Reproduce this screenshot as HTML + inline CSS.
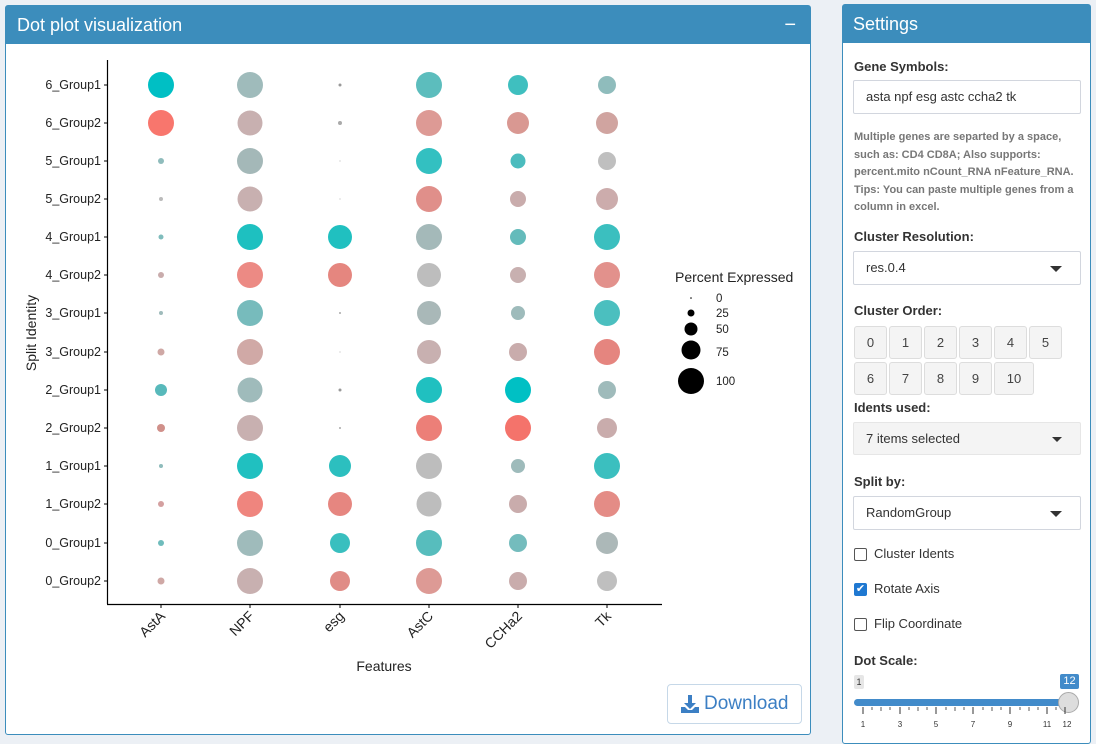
<!DOCTYPE html>
<html><head><meta charset="utf-8"><style>
*{box-sizing:border-box}
body{margin:0;width:1096px;height:742px;background:#ecf0f5;font-family:"Liberation Sans",sans-serif;position:relative;overflow:hidden}
.box{position:absolute;background:#fff;border:1px solid #3c8dbc;border-radius:3px}
.hdr{background:#3c8dbc;color:#fff;font-size:18px;height:38px;line-height:38px;padding-left:11px}
.lbl{position:absolute;left:11px;font-size:13px;font-weight:bold;color:#333}
.inp{position:absolute;left:10px;width:228px;border:1px solid #d2d6de;border-radius:2px;font-size:13px;color:#333;padding-left:12px}
.btn{position:absolute;width:33px;height:33px;border:1px solid #ddd;background:#f4f4f4;border-radius:3px;font-size:13px;color:#444;text-align:center;line-height:31px}
.caret{position:absolute;right:18px;top:14px;border-left:6px solid transparent;border-right:6px solid transparent;border-top:6px solid #333}
.cb{position:absolute;left:11px;width:13px;height:13px;border:1px solid #555;border-radius:2px;background:#fff}
.cbt{position:absolute;left:31px;font-size:13px;color:#333}
</style></head><body>
<div class="box" style="left:5px;top:5px;width:806px;height:730px">
<div class="hdr">Dot plot visualization<span style="position:absolute;right:14px;font-size:20px">−</span></div>
<div style="position:absolute;left:661px;top:678px;width:135px;height:40px;border:1px solid #c6d8e8;border-radius:4px;color:#3c7fc4;font-size:19px;line-height:38px;padding-left:36px">
<svg style="position:absolute;left:12px;top:9px" width="20" height="20" viewBox="0 0 20 20"><path d="M8 1h4v8h4l-6 6-6-6h4z" fill="#3c7fc4"/><path d="M1 13h4l3 3h4l3-3h4v6H1z" fill="#3c7fc4"/></svg>Download</div>
</div>
<svg style="position:absolute;left:0;top:0" width="811" height="742" font-family="Liberation Sans, sans-serif">
<line x1="107.5" y1="60" x2="107.5" y2="604" stroke="#000" stroke-width="1.2"/>
<line x1="107" y1="604.5" x2="662" y2="604.5" stroke="#000" stroke-width="1.2"/>
<g font-size="12.5" fill="#222" text-anchor="end">
<text x="101" y="89">6_Group1</text><text x="101" y="127">6_Group2</text><text x="101" y="165">5_Group1</text><text x="101" y="203">5_Group2</text><text x="101" y="241">4_Group1</text><text x="101" y="279">4_Group2</text><text x="101" y="317">3_Group1</text><text x="101" y="356">3_Group2</text><text x="101" y="394">2_Group1</text><text x="101" y="432">2_Group2</text><text x="101" y="470">1_Group1</text><text x="101" y="508">1_Group2</text><text x="101" y="547">0_Group1</text><text x="101" y="585">0_Group2</text>
</g>
<g stroke="#000"><path d="M104 85h3M104 123h3M104 161h3M104 199h3M104 237h3M104 275h3M104 313h3M104 352h3M104 390h3M104 428h3M104 466h3M104 504h3M104 543h3M104 581h3"/>
<path d="M161 605v3M250 605v3M340 605v3M429 605v3M518 605v3M607 605v3"/></g>
<g font-size="14" fill="#222" text-anchor="end">
<text transform="translate(166,617) rotate(-45)">AstA</text>
<text transform="translate(255,617) rotate(-45)">NPF</text>
<text transform="translate(345,617) rotate(-45)">esg</text>
<text transform="translate(434,617) rotate(-45)">AstC</text>
<text transform="translate(523,617) rotate(-45)">CCHa2</text>
<text transform="translate(612,617) rotate(-45)">Tk</text>
</g>
<text x="384" y="671" font-size="14" text-anchor="middle" fill="#222">Features</text>
<text transform="translate(36,333) rotate(-90)" font-size="14" text-anchor="middle" fill="#222">Split Identity</text>
<g>
<circle cx="161" cy="85" r="13" fill="#00bfc4"/><circle cx="250" cy="85" r="13" fill="#9fbbbb"/><circle cx="340" cy="85" r="1.5" fill="#999"/><circle cx="429" cy="85" r="13" fill="#5cbdbd"/><circle cx="518" cy="85" r="10" fill="#3fbfbf"/><circle cx="607" cy="85" r="9" fill="#8fbcbc"/>
<circle cx="161" cy="123" r="13" fill="#f8766d"/><circle cx="250" cy="123" r="12.5" fill="#c8b0b0"/><circle cx="340" cy="123" r="2" fill="#aaa"/><circle cx="429" cy="123" r="13" fill="#dd9a95"/><circle cx="518" cy="123" r="11" fill="#d99892"/><circle cx="607" cy="123" r="11" fill="#d0a4a0"/>
<circle cx="161" cy="161" r="3" fill="#8fbcbc"/><circle cx="250" cy="161" r="13" fill="#a4b8b8"/><circle cx="340" cy="161" r="0.6" fill="#bbb"/><circle cx="429" cy="161" r="13" fill="#33c0c1"/><circle cx="518" cy="161" r="7.5" fill="#4bbcbe"/><circle cx="607" cy="161" r="9" fill="#bfbfbf"/>
<circle cx="161" cy="199" r="2" fill="#bbb"/><circle cx="250" cy="199" r="12.5" fill="#c8b0b0"/><circle cx="340" cy="199" r="0.6" fill="#bbb"/><circle cx="429" cy="199" r="13" fill="#e08f8a"/><circle cx="518" cy="199" r="8" fill="#c9acac"/><circle cx="607" cy="199" r="11" fill="#ccacac"/>
<circle cx="161" cy="237" r="2.5" fill="#7fbcbc"/><circle cx="250" cy="237" r="13" fill="#1ec0c0"/><circle cx="340" cy="237" r="12" fill="#20c0c0"/><circle cx="429" cy="237" r="13" fill="#a4b9b9"/><circle cx="518" cy="237" r="8" fill="#64bbbb"/><circle cx="607" cy="237" r="13" fill="#3bbfbf"/>
<circle cx="161" cy="275" r="3" fill="#c9acac"/><circle cx="250" cy="275" r="13" fill="#ec8a84"/><circle cx="340" cy="275" r="12" fill="#e5867f"/><circle cx="429" cy="275" r="12" fill="#bdbdbd"/><circle cx="518" cy="275" r="8" fill="#c8b0b0"/><circle cx="607" cy="275" r="13" fill="#e2918c"/>
<circle cx="161" cy="313" r="2" fill="#9fbbbb"/><circle cx="250" cy="313" r="13" fill="#77bbbc"/><circle cx="340" cy="313" r="1" fill="#aaa"/><circle cx="429" cy="313" r="12" fill="#a9b8b8"/><circle cx="518" cy="313" r="7" fill="#9ebbbb"/><circle cx="607" cy="313" r="13" fill="#4bbfbf"/>
<circle cx="161" cy="352" r="3.5" fill="#cfa8a5"/><circle cx="250" cy="352" r="13" fill="#d0a9a6"/><circle cx="340" cy="352" r="0.6" fill="#bbb"/><circle cx="429" cy="352" r="12" fill="#c8b0b0"/><circle cx="518" cy="352" r="9" fill="#c9acac"/><circle cx="607" cy="352" r="13" fill="#e5857f"/>
<circle cx="161" cy="390" r="6" fill="#58b9bb"/><circle cx="250" cy="390" r="12.5" fill="#9fbbbb"/><circle cx="340" cy="390" r="1.5" fill="#999"/><circle cx="429" cy="390" r="13" fill="#20c0c0"/><circle cx="518" cy="390" r="13" fill="#00c0c4"/><circle cx="607" cy="390" r="9" fill="#9fbbbb"/>
<circle cx="161" cy="428" r="4" fill="#d0908a"/><circle cx="250" cy="428" r="13" fill="#c8b0b0"/><circle cx="340" cy="428" r="1" fill="#aaa"/><circle cx="429" cy="428" r="13" fill="#ec7f78"/><circle cx="518" cy="428" r="13" fill="#f4736b"/><circle cx="607" cy="428" r="10" fill="#c9acac"/>
<circle cx="161" cy="466" r="2" fill="#8fbcbc"/><circle cx="250" cy="466" r="13" fill="#20c0c0"/><circle cx="340" cy="466" r="11" fill="#2cbfbf"/><circle cx="429" cy="466" r="13" fill="#bdbdbd"/><circle cx="518" cy="466" r="7" fill="#9ebbbb"/><circle cx="607" cy="466" r="13" fill="#3bbfbf"/>
<circle cx="161" cy="504" r="3" fill="#d4a0a0"/><circle cx="250" cy="504" r="13" fill="#ef857e"/><circle cx="340" cy="504" r="12" fill="#e68680"/><circle cx="429" cy="504" r="12.5" fill="#bdbdbd"/><circle cx="518" cy="504" r="9" fill="#c9acac"/><circle cx="607" cy="504" r="13" fill="#e48c86"/>
<circle cx="161" cy="543" r="3" fill="#6fbcbc"/><circle cx="250" cy="543" r="13" fill="#9fbbbb"/><circle cx="340" cy="543" r="10" fill="#39bfbf"/><circle cx="429" cy="543" r="13" fill="#57bdbd"/><circle cx="518" cy="543" r="9" fill="#74bcbd"/><circle cx="607" cy="543" r="11" fill="#acb8b8"/>
<circle cx="161" cy="581" r="3.5" fill="#cfa8a5"/><circle cx="250" cy="581" r="13" fill="#c8b0b0"/><circle cx="340" cy="581" r="10" fill="#e08c86"/><circle cx="429" cy="581" r="13" fill="#dd9a95"/><circle cx="518" cy="581" r="9" fill="#c9acac"/><circle cx="607" cy="581" r="10" fill="#bfbfbf"/>
</g>
<text x="675" y="282" font-size="14" fill="#222">Percent Expressed</text>
<circle cx="691" cy="298" r="0.8" fill="#000"/><circle cx="691" cy="313" r="3.5" fill="#000"/><circle cx="691" cy="329" r="6.5" fill="#000"/><circle cx="691" cy="350" r="9.5" fill="#000"/><circle cx="691" cy="381" r="13" fill="#000"/>
<g font-size="11.5" fill="#222"><text x="716" y="302">0</text><text x="716" y="317">25</text><text x="716" y="333">50</text><text x="716" y="356">75</text><text x="716" y="385">100</text></g>
</svg>

<div class="box" style="left:842px;top:4px;width:249px;height:740px">
<div class="hdr" style="padding-left:10px">Settings</div>
<div class="lbl" style="top:54px">Gene Symbols:</div>
<div class="inp" style="top:75px;height:34px;line-height:32px">asta npf esg astc ccha2 tk</div>
<div style="position:absolute;left:11px;top:124px;width:232px;font-size:11px;font-weight:bold;color:#777;line-height:17.5px">Multiple genes are separted by a space, such as: CD4 CD8A; Also supports: percent.mito nCount_RNA nFeature_RNA. Tips: You can paste multiple genes from a column in excel.</div>
<div class="lbl" style="top:224px">Cluster Resolution:</div>
<div class="inp" style="top:246px;height:34px;line-height:32px">res.0.4<span class="caret"></span></div>
<div class="lbl" style="top:298px">Cluster Order:</div>
<div class="btn" style="left:11px;top:321px">0</div><div class="btn" style="left:46px;top:321px">1</div><div class="btn" style="left:81px;top:321px">2</div><div class="btn" style="left:116px;top:321px">3</div><div class="btn" style="left:151px;top:321px">4</div><div class="btn" style="left:186px;top:321px">5</div>
<div class="btn" style="left:11px;top:357px">6</div><div class="btn" style="left:46px;top:357px">7</div><div class="btn" style="left:81px;top:357px">8</div><div class="btn" style="left:116px;top:357px">9</div><div class="btn" style="left:151px;top:357px;width:40px">10</div>
<div class="lbl" style="top:395px">Idents used:</div>
<div class="inp" style="top:417px;height:33px;line-height:31px;background:#f4f4f4;border-color:#e6e6e6">7 items selected<span class="caret" style="border-width:5px 5px 0;top:14px"></span></div>
<div class="lbl" style="top:469px">Split by:</div>
<div class="inp" style="top:491px;height:34px;line-height:32px">RandomGroup<span class="caret"></span></div>
<div class="cb" style="top:543px"></div><div class="cbt" style="top:541px">Cluster Idents</div>
<div class="cb" style="top:578px;background:#1f78d1;border-color:#1f78d1;color:#fff;font-size:11px;line-height:11px;text-align:center">✔</div><div class="cbt" style="top:576px">Rotate Axis</div>
<div class="cb" style="top:613px"></div><div class="cbt" style="top:611px">Flip Coordinate</div>
<div class="lbl" style="top:648px">Dot Scale:</div>
<div style="position:absolute;left:11px;top:670px;width:10px;height:14px;background:#e6e6e6;font-size:9px;color:#333;text-align:center;line-height:14px;border-radius:2px">1</div>
<div style="position:absolute;left:217px;top:669px;width:19px;height:15px;background:#428bca;font-size:11px;color:#fff;text-align:center;line-height:15px;border-radius:2px">12</div>
<div style="position:absolute;left:11px;top:694px;width:216px;height:7px;background:#428bca;border-radius:4px"></div>
<div style="position:absolute;left:215px;top:687px;width:21px;height:21px;background:#ddd;border:1px solid #aaa;border-radius:50%"></div>
<svg style="position:absolute;left:0;top:700px" width="249" height="30" font-family="Liberation Sans, sans-serif">
<g stroke="#333"><path d="M20 2v7M57 2v7M93 2v7M130 2v7M167 2v7M204 2v7M222 2v7"/><path d="M38 2v4M75 2v4M112 2v4M149 2v4M186 2v4M29 2v3M47 2v3M66 2v3M84 2v3M103 2v3M121 2v3M140 2v3M158 2v3M177 2v3M195 2v3M213 2v3" stroke-width="0.8"/></g>
<g font-size="8" fill="#333" text-anchor="middle"><text x="20" y="22">1</text><text x="57" y="22">3</text><text x="93" y="22">5</text><text x="130" y="22">7</text><text x="167" y="22">9</text><text x="204" y="22">11</text><text x="224" y="22">12</text></g>
</svg>
</div>
</body></html>
